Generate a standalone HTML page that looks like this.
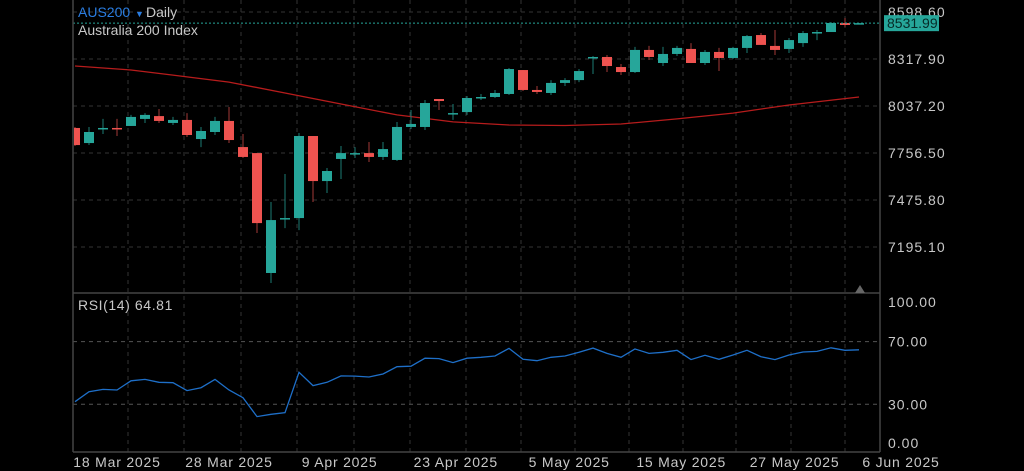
<!DOCTYPE html>
<html><head><meta charset="utf-8"><style>
html,body{margin:0;padding:0;background:#000;width:1024px;height:471px;overflow:hidden}
svg{display:block}
text{font-family:"Liberation Sans",sans-serif}
</style></head><body>
<svg id="c" width="1024" height="471" viewBox="0 0 1024 471" xmlns="http://www.w3.org/2000/svg">
<defs><clipPath id="plot"><rect x="74" y="0" width="806" height="452"/></clipPath></defs>
<rect width="1024" height="471" fill="#000"/>
<g id="grid"></g>
<g id="ma" clip-path="url(#plot)"></g>
<g id="candles" clip-path="url(#plot)"></g>
<g id="rsi" clip-path="url(#plot)"></g>
<g id="axes"></g>
</svg>
<script>
const opens=[7906,7816,7900,7906,7918,7960,7977,7936,7954,7840,7882,7948,7792,7756,7040,7362,7368,7858,7589,7721,7750,7756,7733,7715,7912,7912,8079,7990,8001,8085,8091,8109,8252,8133,8115,8175,8192,8324,8330,8270,8240,8372,8294,8348,8378,8294,8360,8324,8384,8461,8396,8378,8413,8479,8479,8533,8527];
const highs=[7912,7912,7960,7960,7984,7995,8019,7972,7995,7912,7972,8031,7870,7756,7464,7631,7876,7858,7667,7798,7792,7822,7822,7942,8013,8073,8079,8049,8097,8109,8133,8264,8252,8157,8192,8204,8258,8336,8342,8288,8390,8396,8390,8396,8413,8372,8384,8390,8461,8473,8491,8443,8485,8491,8539,8563,8533];
const lows=[7798,7804,7870,7858,7918,7936,7936,7924,7852,7792,7864,7816,7727,7279,6980,7308,7296,7464,7518,7601,7727,7703,7715,7709,7900,7894,8013,7954,7984,8073,8085,8103,8127,8109,8103,8157,8180,8228,8240,8222,8234,8312,8276,8336,8294,8282,8246,8318,8354,8402,8342,8354,8390,8431,8479,8509,8524];
const closes=[7804,7882,7906,7900,7972,7984,7948,7954,7864,7888,7948,7834,7733,7338,7356,7368,7858,7589,7649,7756,7756,7733,7780,7912,7930,8055,8067,7995,8085,8091,8115,8258,8133,8121,8175,8192,8246,8330,8276,8240,8372,8330,8348,8384,8294,8360,8324,8384,8455,8402,8372,8431,8473,8479,8533,8521,8532];
const maIdx=[0,4,7,11,15,19,23,27,31,35,39,43,47,51,56];
const maVals=[8276,8252,8222,8180,8115,8049,7984,7942,7924,7921,7930,7960,7995,8043,8091];
const rsiVals=[31.6,38.0,39.5,39.1,45.0,45.9,44.0,43.8,38.7,40.6,45.9,39.1,34.2,22.1,23.6,24.6,50.4,41.9,44.0,48.1,48.0,47.4,49.3,54.0,54.3,59.4,59.2,56.6,59.4,60.0,60.8,65.7,58.7,57.8,60.0,60.8,63.2,65.9,62.5,60.0,65.3,62.5,63.2,64.5,58.5,61.3,58.7,61.5,64.5,60.4,58.5,61.5,63.4,63.8,66.1,64.5,64.8];
const priceTicks=[8598.60,8317.90,8037.20,7756.50,7475.80,7195.10];
const priceTickLabels=["8598.60","8317.90","8037.20","7756.50","7475.80","7195.10"];
const rsiTicks=[100,70,30,0];
const rsiTickLabels=["100.00","70.00","30.00","0.00"];
const dateLabels=["18 Mar 2025","28 Mar 2025","9 Apr 2025","23 Apr 2025","5 May 2025","15 May 2025","27 May 2025","6 Jun 2025"];
const dateIdx=[3,11,18.9,27.2,35.3,43.3,51.4,59];
const lastPrice=8531.99;

const NS="http://www.w3.org/2000/svg";
const X=i=>75+14*i;
const Y=p=>12+(8598.6-p)/5.972;
const RY=v=>451.2-1.565*v;
function mk(tag,attrs,parent){const e=document.createElementNS(NS,tag);for(const k in attrs)e.setAttribute(k,attrs[k]);parent.appendChild(e);return e;}
const grid=document.getElementById('grid'),cg=document.getElementById('candles'),mag=document.getElementById('ma'),rg=document.getElementById('rsi'),ax=document.getElementById('axes');
[128,184,241,297,354,410,466,521,575,629,683,736,791,845].forEach(x=>{
 const l=mk('line',{x1:x,x2:x,y1:0,y2:452,stroke:'#333',"stroke-dasharray":'4,4'},grid);
 
 
});
priceTicks.forEach((p,i)=>{
 const y=Y(p);
 const l=mk('line',{x1:73,x2:880,y1:y,y2:y,stroke:'#333',"stroke-dasharray":'4,4'},grid);
 
 
 const t=mk('text',{x:888,y:y+5,fill:'#c8c8c8',"font-size":14,"letter-spacing":'1'},ax);t.textContent=priceTickLabels[i];
 
 
});
[70,30].forEach(v=>{
 const l=mk('line',{x1:73,x2:880,y1:RY(v),y2:RY(v),stroke:'#555',"stroke-dasharray":'4,4'},grid);
 
 
});
rsiTicks.forEach((v,i)=>{
 let y=RY(v)+5; if(v===100)y=307; if(v===0)y=448;
 const t=mk('text',{x:888,y:y,fill:'#c8c8c8',"font-size":14,"letter-spacing":'1'},ax);t.textContent=rsiTickLabels[i];
 
 
});
let d='';maIdx.forEach((ix,k)=>{d+=(k?'L':'M')+X(ix)+','+Y(maVals[k]).toFixed(1);});
const mp=mk('path',{d:d,fill:'none',stroke:'#b71c1c',"stroke-width":1.3},mag);


const ly=Y(lastPrice);
const lp=mk('line',{x1:73,x2:880,y1:ly,y2:ly,stroke:'#26a69a',"stroke-dasharray":'2,2'},ax);


opens.forEach((o,i)=>{
 const c=closes[i],up=c>=o,col=up?'#26a69a':'#ef5350',wc=up?'#1d7d74':'#a33a38';
 const x=X(i);
 const w=mk('line',{x1:x,x2:x,y1:Y(highs[i]),y2:Y(lows[i]),stroke:wc,"stroke-width":1},cg);
 
 
 const top=Math.min(Y(o),Y(c)),h=Math.max(1.5,Math.abs(Y(o)-Y(c)));
 const b=mk('rect',{x:x-5,y:top,width:10,height:h,fill:col},cg);
 
 
});
let rd='';rsiVals.forEach((v,i)=>{rd+=(i?'L':'M')+X(i)+','+RY(v).toFixed(1);});
const rp=mk('path',{d:rd,fill:'none',stroke:'#1e6fc8',"stroke-width":1.3},rg);


[[73,0,73,452],[880,0,880,452],[73,293,880,293],[73,452,880,452]].forEach(a=>{
 const l=mk('line',{x1:a[0],y1:a[1],x2:a[2],y2:a[3],stroke:'#444',"stroke-width":1.5},ax);
 
 
});
dateLabels.forEach((s,i)=>{
 const t=mk('text',{x:X(dateIdx[i]),y:467,fill:'#c8c8c8',"font-size":14,"letter-spacing":'0.8',"text-anchor":'middle'},ax);t.textContent=s;
 
 
});
const tag=mk('rect',{x:884,y:ly-8,width:55,height:16,fill:'#26a69a'},ax);


const tt=mk('text',{x:887,y:ly+5,fill:'#062a27',"font-size":14},ax);tt.textContent=lastPrice.toFixed(2);


const tri=mk('path',{d:'M855,293 L860,285 L865,293 Z',fill:'#666'},ax);


const t1=mk('text',{x:78,y:17,fill:'#2a7de1',"font-size":14},ax);t1.textContent='AUS200';


const t2=mk('text',{x:135,y:17,fill:'#2a7de1',"font-size":9},ax);t2.textContent='▼';


const t3=mk('text',{x:146,y:17,fill:'#c8c8c8',"font-size":14},ax);t3.textContent='Daily';


const t4=mk('text',{x:78,y:35,fill:'#c8c8c8',"font-size":14},ax);t4.textContent='Australia 200 Index';


const t5=mk('text',{x:78,y:310,fill:'#c8c8c8',"font-size":14,"letter-spacing":'0.6'},ax);t5.textContent='RSI(14) 64.81';


</script>
</body></html>
